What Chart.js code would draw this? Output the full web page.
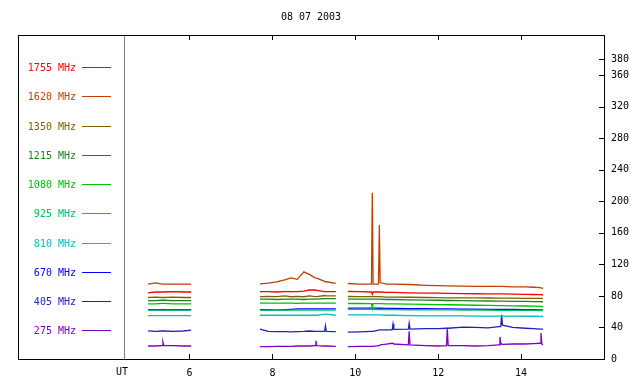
<!DOCTYPE html>
<html>
<head>
<meta charset="utf-8">
<script src="https://cdn.jsdelivr.net/npm/chart.js@4.4.0/dist/chart.umd.min.js"></script>
<style>
  html, body { margin: 0; padding: 0; background: #fff; }
</style>
</head>
<body>
<canvas id="grafico" width="640" height="384"></canvas>
<script>
// -------------------- DADOS --------------------
const TITULO = '08 07 2003';
const FONTE = '10px "DejaVu Sans Mono", monospace';

// horas UT (null nos intervalos sem dados)
const HORAS = [
  5.0, 5.18, 5.34, 5.36, 5.38, 5.6, 5.85, 6.04,
  6.8,
  7.70, 7.9, 8.1, 8.3, 8.45, 8.6, 8.76, 8.9, 9.03, 9.05, 9.07, 9.26, 9.28, 9.30, 9.53,
  9.7,
  9.82, 10.1, 10.39, 10.41, 10.43, 10.56, 10.58, 10.60, 10.75, 10.89, 10.91, 10.93,
  11.28, 11.30, 11.32, 11.7, 12.0, 12.20, 12.22, 12.24, 12.6, 12.9, 13.2,
  13.47, 13.49, 13.51, 13.53, 13.55, 13.8, 14.1, 14.3, 14.46, 14.48, 14.50, 14.53
];

const FREQS = ['1755 MHz', '1620 MHz', '1350 MHz', '1215 MHz', '1080 MHz',
               '925 MHz', '810 MHz', '670 MHz', '405 MHz', '275 MHz'];
const CORES = ['#ff0000', '#c04000', '#806000', '#208020', '#00c000',
               '#00c060', '#00c0c0', '#0000ff', '#2020c0', '#8000c0'];

const F1755 = [
  84, 85, 85, 85, 85, 85.5, 85, 85,
  null,
  85.5, 85.5, 85, 85.5, 85.5, 85.5, 86, 87.5, 87.5, 87.5, 87, 85.5, 85.5, 85.5, 85.5,
  null,
  85.6, 85.5, 85, 82, 85, 85, 85, 85, 84.5, 84.5, 84.5, 84.5, 84, 84, 84, 83.6, 83.5,
  83.2, 83.2, 83.2, 83, 82.8, 82.7, 82.5, 82.5, 82.5, 82.5, 82.5, 82.2, 82, 81.8, 81.6,
  81.6, 81.5, 81.4
];
const F1620 = [
  95, 96.5, 95, 95, 95, 95, 95, 95,
  null,
  95.4, 96.3, 97.8, 100.4, 103, 101, 110.5, 107, 103, 103, 102.5, 98.4, 98, 98, 96,
  null,
  95.8, 95, 95, 211, 95, 95, 170, 97, 95, 95, 95, 95, 94.5, 94.5, 94.5, 93.5, 93,
  92.8, 92.8, 92.8, 92.5, 92, 92, 92, 92, 92, 92, 92, 91.5, 91.5, 91, 90.5,
  90.5, 90, 89.5
];
const F1350 = [
  78, 78.5, 78, 78, 78, 78.5, 78, 78,
  null,
  79, 79.5, 79, 80, 79, 79.5, 79, 80, 79, 79, 79, 80.5, 80, 80, 80,
  null,
  79.3, 79, 79, 79, 79, 79, 79, 79, 78.5, 78.5, 78.5, 78.5, 78.3, 78.3, 78.3, 78, 77.8,
  77.6, 77.6, 77.6, 77.5, 77.5, 77.4, 77.3, 77.3, 77.3, 77.3, 77.3, 77.2, 77, 77, 76.8,
  76.8, 76.8, 76.7
];
const F1215 = [
  74, 74, 74.5, 74.5, 74.5, 74, 74, 74,
  null,
  76, 76, 75.5, 76, 76, 76, 75.5, 76, 76, 76, 76, 76.5, 76.5, 76.5, 76.5,
  null,
  76, 76, 76, 76, 76, 76, 76, 76, 75.5, 75.5, 75.5, 75.5, 75, 75, 75, 74.8, 74.5,
  74.2, 74.2, 74.2, 74, 73.8, 73.6, 73.4, 73.4, 73.4, 73.4, 73.4, 73.2, 73, 72.9, 72.7,
  72.7, 72.6, 72.5
];
const F1080 = [
  70, 70, 70.5, 70.5, 70.5, 70, 70, 70,
  null,
  71, 71, 71, 71, 71, 70.5, 71, 71, 71, 71, 71, 71, 71, 71, 71,
  null,
  70.4, 70.4, 70.3, 64.5, 70.3, 70.2, 70.2, 70.2, 70, 70, 70, 70, 69.7, 69.7, 69.7, 69.3, 69,
  68.8, 68.8, 68.8, 68.5, 68.2, 68, 67.8, 67.8, 67.8, 67.8, 67.8, 67.5, 67.2, 67, 66.8,
  66.8, 66.6, 66.5
];
const F925 = [
  62, 62, 62, 62, 62, 62, 62, 62,
  null,
  62, 62, 62.5, 62, 62, 62, 62, 62, 62, 62, 62, 62, 62, 62, 62,
  null,
  63, 63, 63, 63, 63, 62.8, 62.8, 62.8, 62.8, 62.6, 62.6, 62.6, 62.5, 62.5, 62.5, 62.4, 62.3,
  62.2, 62.2, 62.2, 62, 62, 62, 61.8, 61.8, 61.8, 61.8, 61.8, 61.7, 61.6, 61.6, 61.5,
  61.5, 61.5, 61.5
];
const F810 = [
  55, 55, 55, 55, 55, 55, 55, 55,
  null,
  55.5, 55.5, 55.5, 55.5, 55.5, 55.5, 55.5, 55.5, 55.5, 55.5, 55.5, 57, 57, 57, 55.5,
  null,
  56, 56, 56, 56, 56, 56, 56, 56, 55.5, 55.5, 55.5, 55.5, 55, 55, 55, 54.8, 54.7,
  54.7, 54.7, 54.7, 54.6, 54.5, 54.5, 54.5, 54.5, 54.5, 54.5, 54.5, 54.3, 54.2, 54.2, 54.1,
  54.1, 54, 54
];
const F670 = [
  62.5, 62.5, 62.5, 62.5, 62.5, 62.5, 62.5, 62.5,
  null,
  62.5, 62.5, 62.5, 62.5, 63, 63.5, 63.5, 63.5, 63.5, 63.5, 63.5, 63.5, 63.5, 63.5, 63.5,
  null,
  64.5, 64.5, 64.5, 64.5, 64.5, 64.4, 64.4, 64.4, 64.3, 64.2, 64.2, 64.2, 64, 64, 64, 63.8, 63.6,
  63.5, 63.5, 63.5, 63.3, 63.2, 63, 62.9, 62.9, 62.9, 62.9, 62.9, 62.8, 62.6, 62.5, 62.4,
  62.4, 62.3, 62.3
];
const F405 = [
  35.6, 35, 35.5, 35.5, 35.5, 35, 35.5, 36.5,
  null,
  38, 35, 34.7, 34.7, 34.5, 34.7, 35, 35.5, 35, 35, 35, 35, 42, 35, 34.7,
  null,
  34, 34.5, 35, 35, 35, 36.5, 37, 37, 37, 37, 44.5, 37.5, 38, 45.5, 38, 38.5, 38.5,
  39, 39, 39, 40.5, 40, 39.5, 41, 41, 41, 56, 43, 40, 39, 38.5, 38,
  38, 38, 38
];
const F275 = [
  16.5, 16.5, 17, 21.6, 17, 17, 16.5, 16.5,
  null,
  15.6, 15.6, 16, 16, 16, 16.5, 16.5, 16.5, 17, 23, 17, 16.5, 16.5, 16.5, 16,
  null,
  15.6, 16, 16, 16, 16, 17, 17, 18, 19, 20, 20, 19, 18, 35, 18, 17, 16.5,
  17, 38, 17, 17, 16.5, 17, 18, 28, 19, 19, 18.5, 19, 19, 19.5, 20,
  33, 19, 18
];

const SERIES = [F1755, F1620, F1350, F1215, F1080, F925, F810, F670, F405, F275];

const X_TICKS = [6, 8, 10, 12, 14];
const Y_TICKS = [0, 40, 80, 120, 160, 200, 240, 280, 320, 360, 380];

// -------------------- MOLDURA / LEGENDA --------------------
const moldura = {
  id: 'moldura',
  afterDraw(chart) {
    const { ctx, chartArea: a, scales: { x, y } } = chart;
    ctx.save();
    ctx.lineWidth = 1;
    ctx.strokeStyle = '#000';
    ctx.strokeRect(18.5, a.top + 0.5, a.right - 18, a.bottom - a.top);

    // linha separando a legenda
    ctx.strokeStyle = '#808080';
    ctx.beginPath();
    ctx.moveTo(a.left + 0.5, a.top + 1);
    ctx.lineTo(a.left + 0.5, a.bottom);
    ctx.stroke();

    // marcas dos eixos (para dentro)
    ctx.strokeStyle = '#000';
    ctx.beginPath();
    X_TICKS.forEach(v => {
      const px = Math.round(x.getPixelForValue(v)) + 0.5;
      ctx.moveTo(px, a.bottom); ctx.lineTo(px, a.bottom - 5);
      ctx.moveTo(px, a.top + 1); ctx.lineTo(px, a.top + 5);
    });
    Y_TICKS.forEach(v => {
      const py = Math.round(y.getPixelForValue(v)) + 0.5;
      ctx.moveTo(a.right, py); ctx.lineTo(a.right - 5, py);
    });
    ctx.stroke();

    ctx.font = FONTE;
    ctx.fillStyle = '#000';
    ctx.textAlign = 'center';
    ctx.textBaseline = 'middle';
    ctx.fillText(TITULO, 311, 17);
    ctx.fillText('UT', 122, 372);

    // legenda
    FREQS.forEach((f, i) => {
      const ly = Math.round(67 + i * 29.25);
      ctx.fillStyle = CORES[i];
      ctx.strokeStyle = CORES[i];
      ctx.textAlign = 'right';
      ctx.fillText(f, 76, ly + 1);
      ctx.beginPath();
      ctx.moveTo(82, ly + 0.5);
      ctx.lineTo(111, ly + 0.5);
      ctx.stroke();
    });
    ctx.restore();
  }
};

// -------------------- GRÁFICO --------------------
const ctx = document.getElementById('grafico').getContext('2d');

new Chart(ctx, {
  type: 'line',
  data: {
    datasets: SERIES.map((serie, i) => ({
      label: FREQS[i],
      data: HORAS.map((h, j) => ({ x: h, y: serie[j] })),
      borderColor: CORES[i],
      borderWidth: 1.3,
      pointRadius: 0,
      tension: 0,
      fill: false,
    }))
  },
  options: {
    responsive: false,
    animation: false,
    devicePixelRatio: 1,
    layout: { padding: { left: 124, top: 35, right: 0, bottom: 0 } },
    plugins: {
      legend: { display: false },
      title: { display: false },
      tooltip: { enabled: false },
    },
    scales: {
      x: {
        type: 'linear',
        min: 4.42,
        max: 16.0,
        afterBuildTicks: axis => { axis.ticks = X_TICKS.map(v => ({ value: v })); },
        afterFit: axis => { axis.height = 25; },
        grid: { display: false, drawTicks: false },
        border: { display: false },
        ticks: { color: '#000', font: { family: '"DejaVu Sans Mono", monospace', size: 10 }, padding: 8, maxRotation: 0 },
      },
      y: {
        position: 'right',
        min: 0,
        max: 411,
        afterBuildTicks: axis => { axis.ticks = Y_TICKS.map(v => ({ value: v })); },
        afterFit: axis => { axis.width = 36; },
        grid: { display: false, drawTicks: false },
        border: { display: false },
        ticks: { color: '#000', font: { family: '"DejaVu Sans Mono", monospace', size: 10 }, padding: 7, autoSkip: false },
      }
    }
  },
  plugins: [moldura]
});
</script>
</body>
</html>
